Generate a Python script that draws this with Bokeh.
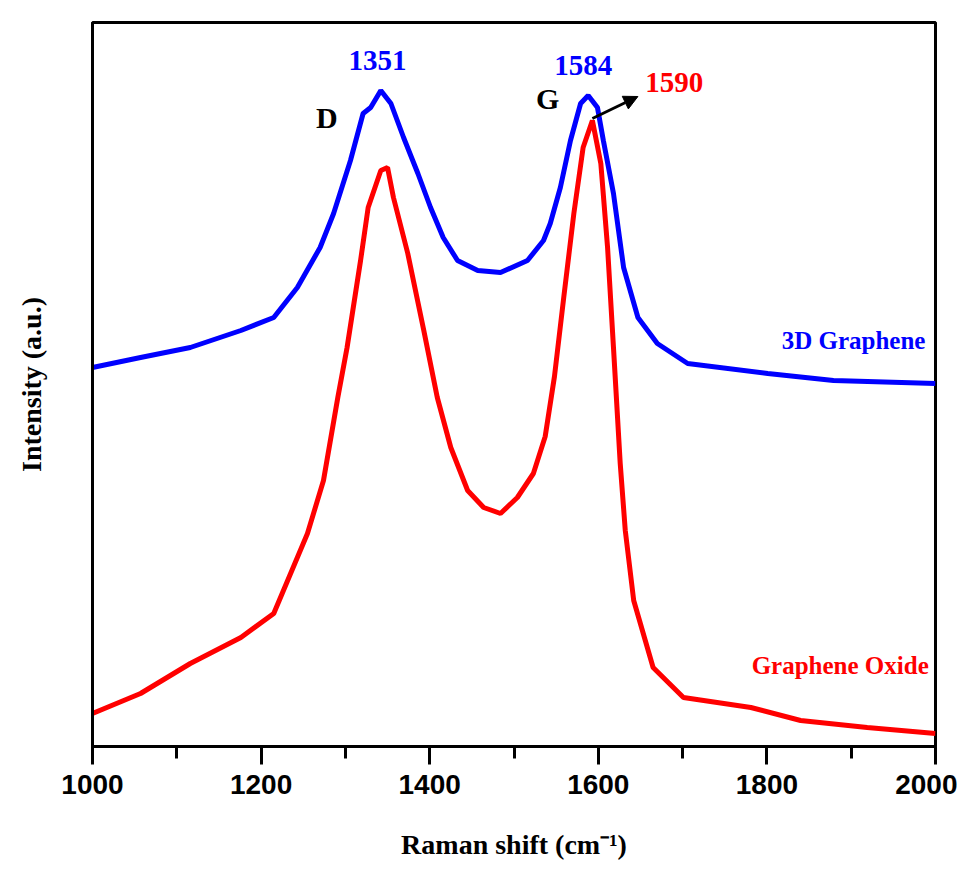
from bokeh.plotting import figure
from bokeh.models import Range1d, Label, Arrow, NormalHead, FixedTicker
from bokeh.embed import file_html
from bokeh.resources import INLINE

# Raman shift (cm-1) and intensity (a.u.)
g3d_shift = [1000, 1057, 1116, 1176, 1215, 1243, 1270, 1286, 1306, 1321, 1330, 1342, 1354,
             1369, 1386, 1401, 1416, 1433, 1457, 1484, 1516, 1535, 1543, 1555, 1567, 1579,
             1588, 1599, 1606, 1618, 1630, 1647, 1670, 1706, 1801, 1879, 2000]
g3d_int = [379, 389, 399, 416, 429, 459, 499, 533, 586, 633, 639, 656, 643,
           609, 573, 539, 509, 486, 476, 474, 486, 506, 523, 559, 606, 643,
           651, 639, 606, 553, 479, 429, 403, 383, 373, 366, 363]

go_shift = [1000, 1057, 1116, 1176, 1215, 1235, 1255, 1274, 1291, 1302, 1318, 1327, 1342,
            1350, 1357, 1374, 1393, 1409, 1425, 1445, 1464, 1484, 1504, 1523, 1537, 1548,
            1559, 1571, 1582, 1593, 1603, 1611, 1618, 1626, 1632, 1642, 1665, 1701, 1781,
            1840, 1919, 2000]
go_int = [33, 53, 83, 109, 133, 173, 213, 266, 349, 399, 486, 539, 576,
          579, 549, 493, 416, 349, 299, 256, 239, 233, 249, 273, 310, 370,
          449, 533, 599, 626, 583, 499, 399, 283, 216, 146, 79, 49, 39,
          26, 19, 13]

x_ticks = [1000, 1200, 1400, 1600, 1800, 2000]
x_minor = [1000, 1100, 1200, 1300, 1400, 1500, 1600, 1700, 1800, 1900, 2000]

p = figure(width=957, height=868, output_backend="svg", toolbar_location=None,
           x_range=Range1d(1000, 2000), y_range=Range1d(0, 724),
           min_border_left=92, min_border_right=22, min_border_top=22, min_border_bottom=122)

p.background_fill_color = "white"
p.border_fill_color = "white"
p.xgrid.visible = False
p.ygrid.visible = False
p.outline_line_color = "black"
p.outline_line_width = 3

p.line(g3d_shift, g3d_int, line_color="#0000ff", line_width=5)
p.line(go_shift, go_int, line_color="#ff0000", line_width=5)

# x axis
xa = p.xaxis[0]
xa.ticker = FixedTicker(ticks=x_ticks, minor_ticks=x_minor)
xa.axis_line_width = 3
xa.major_tick_line_width = 3
xa.minor_tick_line_width = 3
xa.major_tick_out = 18
xa.major_tick_in = 0
xa.minor_tick_out = 12
xa.minor_tick_in = 0
xa.major_label_text_font = "Liberation Sans"
xa.major_label_text_font_style = "bold"
xa.major_label_text_font_size = "28px"
xa.major_label_text_color = "black"
xa.major_label_standoff = 10
xa.axis_label = "Raman shift (cm\u207b\u00b9)"
xa.axis_label_text_font = "Liberation Serif"
xa.axis_label_text_font_style = "bold"
xa.axis_label_text_font_size = "28px"
xa.axis_label_text_color = "black"
xa.axis_label_standoff = 32

# y axis: no ticks or tick labels
ya = p.yaxis[0]
ya.ticker = FixedTicker(ticks=[], minor_ticks=[])
ya.axis_line_width = 3
ya.major_tick_line_color = None
ya.minor_tick_line_color = None
ya.axis_label = "Intensity (a.u.)"
ya.axis_label_text_font = "Liberation Serif"
ya.axis_label_text_font_style = "bold"
ya.axis_label_text_font_size = "28px"
ya.axis_label_text_color = "black"
ya.axis_label_standoff = 46

def lab(x, y, t, color, size="29px", align="center"):
    p.add_layout(Label(x=x, y=y, text=t, text_color=color, text_font="Liberation Serif",
                       text_font_style="bold", text_font_size=size, text_align=align,
                       text_baseline="middle"))

lab(1338, 686, "1351", "#0000ff")
lab(1278, 629, "D", "black", "30px")
lab(1582, 681, "1584", "#0000ff")
lab(1540, 648, "G", "black", "30px")
lab(1690, 664, "1590", "#ff0000")
lab(1988, 406, "3D Graphene", "#0000ff", "25px", "right")
lab(1992, 81, "Graphene Oxide", "#ff0000", "25px", "right")

p.add_layout(Arrow(end=NormalHead(size=14, fill_color="black", line_color="black"),
                   x_start=1593, y_start=628, x_end=1647, y_end=650,
                   line_color="black", line_width=3))

open("out.html", "w").write(file_html(p, INLINE))
